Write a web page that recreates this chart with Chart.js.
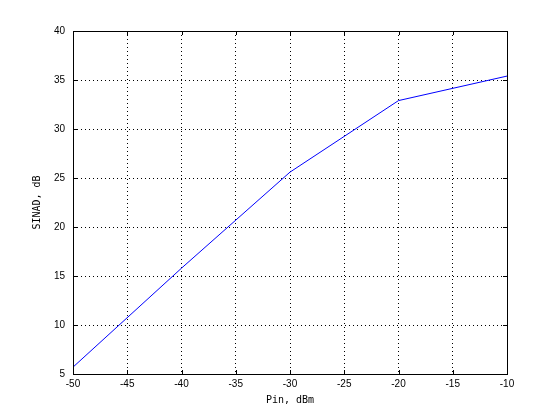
<!DOCTYPE html>
<html lang="en">
<head>
    <meta charset="UTF-8">
    <title>SINAD vs Pin</title>
    <script src="https://cdn.jsdelivr.net/npm/chart.js"></script>
    <style>
        body { margin: 0; background: #fff; }
        canvas { display: block; }
    </style>
</head>
<body>
    <canvas id="sinadChart" width="560" height="420"></canvas>
    <script>
        // Values
        const pinDbm = [-50, -40, -30, -20, -10];
        const sinadDb = [5.7, 15.8, 25.6, 32.9, 35.4];
        const xTicks = [-50, -45, -40, -35, -30, -25, -20, -15, -10];
        const yTicks = [5, 10, 15, 20, 25, 30, 35, 40];

        // MATLAB-style box with inward ticks on all four sides
        const boxTicks = {
            id: 'boxTicks',
            afterDraw(chart) {
                const { ctx, chartArea: a, scales } = chart;
                const len = 4;
                ctx.save();
                ctx.strokeStyle = '#000';
                ctx.lineWidth = 1;
                ctx.beginPath();
                scales.x.ticks.forEach(t => {
                    const px = Math.round(scales.x.getPixelForValue(t.value)) + 0.5;
                    ctx.moveTo(px, a.bottom); ctx.lineTo(px, a.bottom - len);
                    ctx.moveTo(px, a.top); ctx.lineTo(px, a.top + len);
                });
                scales.y.ticks.forEach(t => {
                    const py = Math.round(scales.y.getPixelForValue(t.value)) + 0.5;
                    ctx.moveTo(a.left, py); ctx.lineTo(a.left + len, py);
                    ctx.moveTo(a.right, py); ctx.lineTo(a.right - len, py);
                });
                ctx.stroke();
                ctx.strokeRect(Math.round(a.left) + 0.5, Math.round(a.top) + 0.5,
                    Math.round(a.right - a.left), Math.round(a.bottom - a.top));
                ctx.restore();
            }
        };

        const tickFont = { family: '"Liberation Sans", Arial, sans-serif', size: 10 };
        const labelFont = { family: '"DejaVu Sans Mono", monospace', size: 10 };
        const gridOpts = {
            color: '#000',
            lineWidth: 1,
            drawTicks: false
        };

        new Chart(document.getElementById('sinadChart'), {
            type: 'line',
            data: {
                datasets: [{
                    data: pinDbm.map((x, i) => ({ x: x, y: sinadDb[i] })),
                    borderColor: '#0000ff',
                    borderWidth: 1,
                    pointRadius: 0,
                    tension: 0,
                    fill: false
                }]
            },
            options: {
                responsive: false,
                animation: false,
                layout: { padding: { top: 31, right: 53, left: 31, bottom: 10 } },
                plugins: {
                    legend: { display: false },
                    tooltip: { enabled: false }
                },
                scales: {
                    x: {
                        type: 'linear',
                        min: -50,
                        max: -10,
                        afterBuildTicks: s => { s.ticks = xTicks.map(v => ({ value: v })); },
                        afterFit: s => { s.height = 36; },
                        ticks: { font: tickFont, color: '#000', padding: 4, maxRotation: 0 },
                        grid: gridOpts,
                        border: { display: false, dash: [1, 3] },
                        title: {
                            display: true,
                            text: 'Pin, dBm',
                            font: labelFont,
                            color: '#000',
                            padding: { top: 4, bottom: 4 }
                        }
                    },
                    y: {
                        min: 5,
                        max: 40,
                        afterBuildTicks: s => { s.ticks = yTicks.map(v => ({ value: v })); },
                        afterFit: s => { s.width = 42; },
                        ticks: { font: tickFont, color: '#000', padding: 8 },
                        grid: gridOpts,
                        border: { display: false, dash: [1, 3] },
                        title: {
                            display: true,
                            text: 'SINAD, dB',
                            font: labelFont,
                            color: '#000',
                            padding: 0
                        }
                    }
                }
            },
            plugins: [boxTicks]
        });
    </script>
</body>
</html>
